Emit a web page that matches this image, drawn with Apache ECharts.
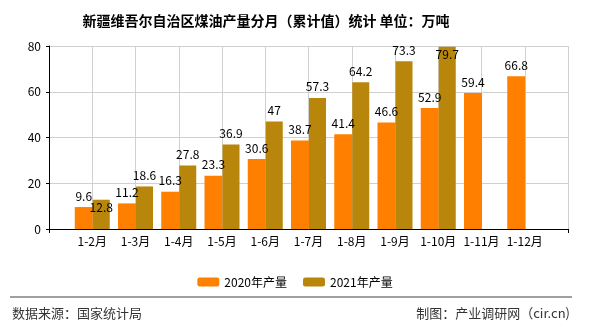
<!DOCTYPE html>
<html><head><meta charset="utf-8">
<script src="https://cdn.jsdelivr.net/npm/echarts@6/dist/echarts.min.js"></script>
<style>html,body{margin:0;padding:0;background:#fff}#c{width:590px;height:330px}</style>
</head><body><div id="c"></div>
<script>
const categories = ["", "1-2月", "1-3月", "1-4月", "1-5月", "1-6月", "1-7月", "1-8月", "1-9月", "1-10月", "1-11月", "1-12月", ""];
const values2020 = [null, 9.6, 11.2, 16.3, 23.3, 30.6, 38.7, 41.4, 46.6, 52.9, 59.4, 66.8, null];
const values2021 = [null, 12.8, 18.6, 27.8, 36.9, 47, 57.3, 64.2, 73.3, 79.7, null, null, null];
const seriesNames = ["2020年产量", "2021年产量"];
const yTicks = [0, 20, 40, 60, 80];

// labels that sit inside the bar top (as in the reference)
const insideLabels2021 = [1, 9];

const font = '"Noto Sans CJK SC", "DejaVu Sans", sans-serif';
const chart = echarts.init(document.getElementById('c'), null, {renderer: 'canvas'});

function buildData(arr, inside) {
  return arr.map((v, i) => {
    if (inside && inside.indexOf(i) >= 0) {
      return {value: v, label: {position: 'insideTop', distance: 2}};
    }
    return v;
  });
}

chart.setOption({
  animation: false,
  title: {
    text: '新疆维吾尔自治区煤油产量分月（累计值）统计 单位：万吨',
    left: 261, textAlign: 'center', top: 9,
    textStyle: {fontSize: 14, fontWeight: 'bold', color: '#000', fontFamily: font}
  },
  legend: {
    data: seriesNames, top: 271, left: 'center', itemWidth: 22, itemHeight: 9, itemGap: 16,
    textStyle: {fontSize: 12, color: '#000', fontFamily: font}
  },
  grid: {left: 49, right: 22, top: 46, bottom: 101},
  xAxis: {
    type: 'category', data: categories, boundaryGap: false,
    axisLine: {lineStyle: {color: '#000', width: 1}},
    axisTick: {show: true, length: 4, interval: (i) => i === 0 || i === categories.length - 1, lineStyle: {color: '#000'}},
    axisLabel: {interval: 0, color: '#000', fontSize: 12, fontFamily: font, margin: 6},
    splitLine: {show: true, lineStyle: {color: '#d0d0d0'}}
  },
  yAxis: {
    type: 'value', min: yTicks[0], max: yTicks[yTicks.length - 1], interval: 20,
    axisLine: {show: true, lineStyle: {color: '#000', width: 1}},
    axisTick: {show: true, length: 3, lineStyle: {color: '#000'}},
    axisLabel: {color: '#000', fontSize: 12, fontFamily: font, margin: 8},
    splitLine: {show: true, lineStyle: {color: '#d0d0d0'}}
  },
  series: [
    {
      name: seriesNames[0], type: 'bar', data: buildData(values2020), barWidth: 18, barGap: '0%',
      itemStyle: {color: '#FF8000'},
      label: {show: true, position: 'top', distance: 5, color: '#000', fontSize: 12, fontFamily: font}
    },
    {
      name: seriesNames[1], type: 'bar', data: buildData(values2021, insideLabels2021), barWidth: 17, barGap: '0%',
      itemStyle: {color: '#B8860B'},
      label: {show: true, position: 'top', distance: 5, color: '#000', fontSize: 12, fontFamily: font}
    }
  ],
  graphic: [
    {type: 'line', shape: {x1: 10, y1: 297, x2: 572, y2: 297}, style: {stroke: '#808080', lineWidth: 1.5}},
    {type: 'text', left: 12, top: 307, style: {text: '数据来源：国家统计局', fontSize: 13, fill: '#333', fontFamily: font}},
    {type: 'text', right: 20, top: 307, style: {text: '制图：产业调研网（cir.cn)', fontSize: 13, fill: '#333', fontFamily: font}}
  ]
});
</script></body></html>
